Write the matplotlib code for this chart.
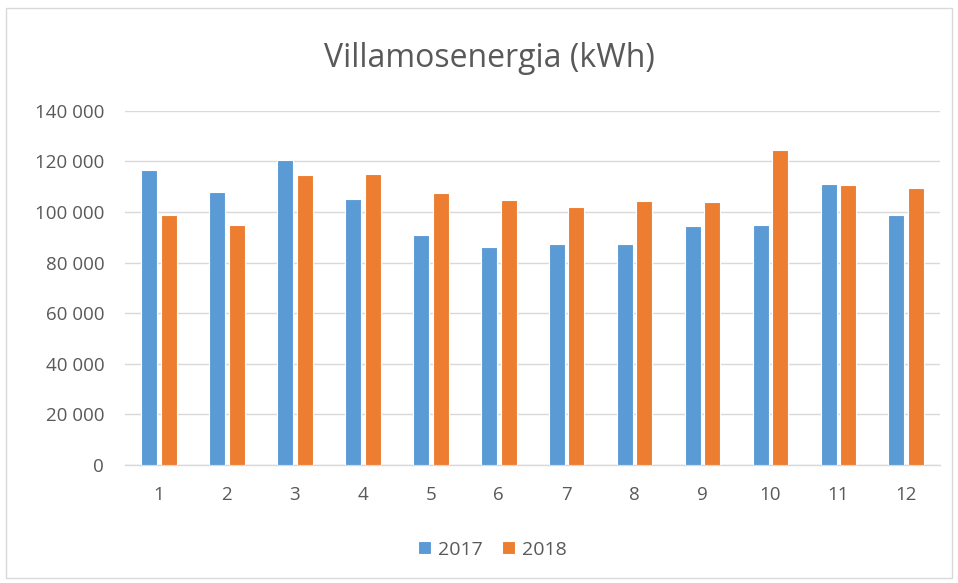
import matplotlib
matplotlib.use("Agg")
import matplotlib.pyplot as plt
from matplotlib.ticker import FuncFormatter
from matplotlib.patches import Rectangle
import numpy as np

months = ["1", "2", "3", "4", "5", "6", "7", "8", "9", "10", "11", "12"]
values_2017 = [116500, 107900, 120600, 105300, 90800, 86200, 87200, 87200, 94300, 94900, 110900, 98800]
values_2018 = [98800, 94900, 114400, 114900, 107300, 104900, 101800, 104300, 103900, 124600, 110500, 109400]
series_labels = ["2017", "2018"]
title = "Villamosenergia (kWh)"

plt.rcParams['font.family'] = ['Open Sans', 'DejaVu Sans']
text_color = "#595959"

fig = plt.figure(figsize=(9.58, 5.83), dpi=100)
fig.patches.append(Rectangle((0.006, 0.008), 0.988, 0.978, transform=fig.transFigure,
                             fill=False, edgecolor="#D9D9D9", linewidth=1.0))
ax = fig.add_axes([0.1305, 0.2024, 0.851, 0.6077])

x = np.arange(1, len(months) + 1)
w = 0.235
off = 0.145
ax.bar(x - off, values_2017, width=w, color="#5B9BD5", edgecolor="white", linewidth=0.8,
       label=series_labels[0], zorder=3)
ax.bar(x + off, values_2018, width=w, color="#ED7D31", edgecolor="white", linewidth=0.8,
       label=series_labels[1], zorder=3)

ax.set_xlim(0.5, 12.5)
ax.set_ylim(0, 140000)
ax.set_yticks(np.arange(0, 140001, 20000))
ax.yaxis.set_major_formatter(FuncFormatter(lambda v, p: f"{int(v):,}".replace(",", " ")))
ax.set_xticks(x)
ax.set_xticklabels(months)

ax.grid(axis="y", color="#D9D9D9", linewidth=1.0, zorder=0)
for s in ["top", "right", "left"]:
    ax.spines[s].set_visible(False)
ax.spines["bottom"].set_color("#D9D9D9")
ax.spines["bottom"].set_linewidth(1.0)
ax.tick_params(axis="both", length=0, labelsize=13.5, labelcolor=text_color)
ax.tick_params(axis="x", pad=15)
ax.tick_params(axis="y", pad=15)

fig.text(0.511, 0.900, title, ha="center", va="center", fontsize=23, color=text_color)

leg = fig.legend(loc="center", bbox_to_anchor=(0.514, 0.057), ncol=2, frameon=False,
                 fontsize=14, handlelength=0.65, handleheight=0.65, handletextpad=0.35,
                 columnspacing=1.0)
for t in leg.get_texts():
    t.set_color(text_color)

fig.savefig("out.png", dpi=100)
